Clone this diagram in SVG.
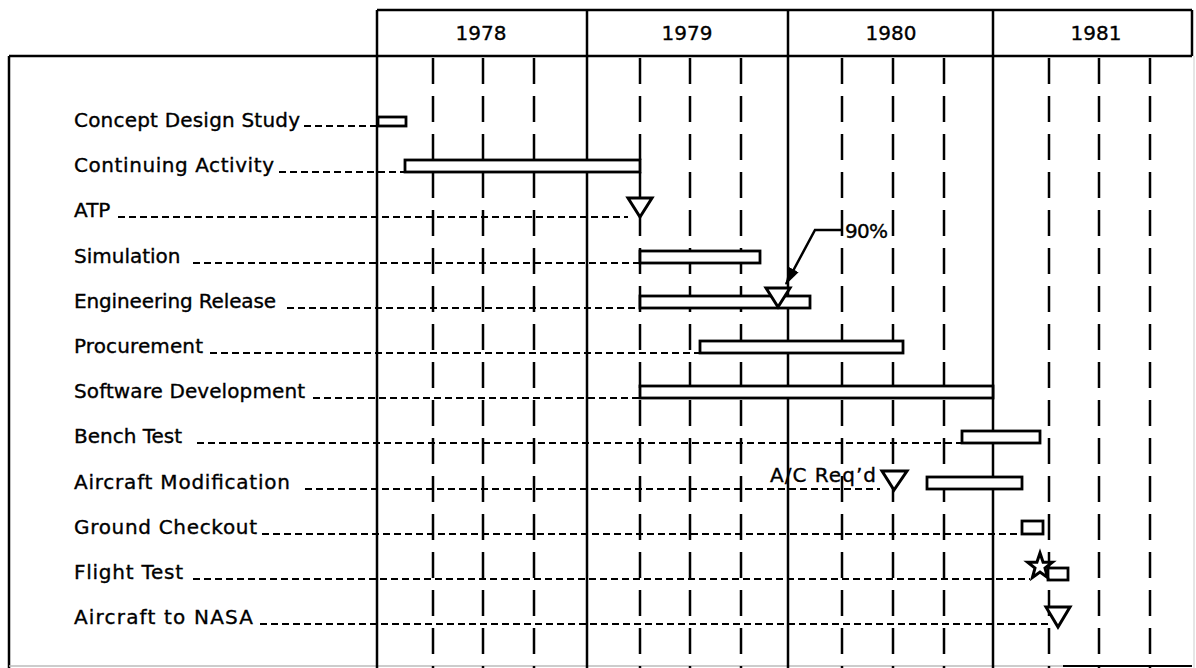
<svg xmlns="http://www.w3.org/2000/svg" width="1196" height="668" viewBox="0 0 1196 668">
<defs>
<style>
.lbl{font-family:"DejaVu Sans","Liberation Sans",sans-serif;font-size:20px;fill:#000;stroke:#000;stroke-width:0.35}
.yr{font-family:"DejaVu Sans","Liberation Sans",sans-serif;font-size:20px;fill:#000;stroke:#000;stroke-width:0.35;text-anchor:middle}
.frame{stroke:#000;stroke-width:2.5;fill:none}
.year{stroke:#000;stroke-width:2.5;fill:none}
.qtr{stroke:#000;stroke-width:2.5;stroke-dasharray:26 12;fill:none}
.lead{stroke:#000;stroke-width:2;stroke-dasharray:7 4;fill:none}
.bar{stroke:#000;stroke-width:2.8;fill:#fff}
.mk{stroke:#000;stroke-width:3;fill:#fff;stroke-linejoin:miter}
</style>
<marker id="ah" viewBox="0 0 16 10" refX="15" refY="5" markerWidth="7" markerHeight="4.5" orient="auto" markerUnits="strokeWidth">
<path d="M0,0 L16,5 L0,10 z" fill="#000"/>
</marker>
</defs>
<rect width="1196" height="668" fill="#fff"/>

<g id="frame">
<line class="frame" x1="377" y1="10" x2="1192" y2="10"/>
<line class="frame" x1="9" y1="56" x2="1192" y2="56"/>
<line class="frame" x1="9" y1="56" x2="9" y2="668"/>
<line class="frame" x1="1192" y1="10" x2="1192" y2="56"/>
<line x1="1194" y1="56" x2="1194" y2="668" stroke="#ccc" stroke-width="1"/>
<line x1="9" y1="666" x2="1063" y2="666" stroke="#bbb" stroke-width="1.5"/>
<line x1="1063" y1="666" x2="1192" y2="666" stroke="#000" stroke-width="2"/>
</g>

<g id="grid">
<line class="year" x1="377" y1="10" x2="377" y2="668"/>
<line class="year" x1="587" y1="10" x2="587" y2="668"/>
<line class="year" x1="788" y1="10" x2="788" y2="668"/>
<line class="year" x1="993" y1="10" x2="993" y2="668"/>
<line class="qtr" x1="433" y1="58" x2="433" y2="668"/>
<line class="qtr" x1="483" y1="58" x2="483" y2="668"/>
<line class="qtr" x1="534" y1="58" x2="534" y2="668"/>
<line class="qtr" x1="640" y1="58" x2="640" y2="668"/>
<line class="qtr" x1="690" y1="58" x2="690" y2="668"/>
<line class="qtr" x1="741" y1="58" x2="741" y2="668"/>
<line class="qtr" x1="842" y1="58" x2="842" y2="668"/>
<line class="qtr" x1="893" y1="58" x2="893" y2="668"/>
<line class="qtr" x1="944" y1="58" x2="944" y2="668"/>
<line class="qtr" x1="1049" y1="58" x2="1049" y2="668"/>
<line class="qtr" x1="1099" y1="58" x2="1099" y2="668"/>
<line class="qtr" x1="1150" y1="58" x2="1150" y2="668"/>
</g>

<g id="years">
<text class="yr" x="481" y="40">1978</text>
<text class="yr" x="687" y="40">1979</text>
<text class="yr" x="891" y="40">1980</text>
<text class="yr" x="1096" y="40">1981</text>
</g>

<g id="connectors">
<line class="lead" x1="304" y1="126" x2="377" y2="126"/>
<line class="lead" x1="279" y1="172" x2="405" y2="172"/>
<line class="lead" x1="118" y1="217" x2="628" y2="217"/>
<line class="lead" x1="193" y1="263" x2="640" y2="263"/>
<line class="lead" x1="287" y1="308" x2="640" y2="308"/>
<line class="lead" x1="210" y1="353" x2="700" y2="353"/>
<line class="lead" x1="313" y1="398" x2="640" y2="398"/>
<line class="lead" x1="197" y1="443" x2="962" y2="443"/>
<line class="lead" x1="305" y1="489" x2="880" y2="489"/>
<line class="lead" x1="262" y1="534" x2="1022" y2="534"/>
<line class="lead" x1="193" y1="579" x2="1030" y2="579"/>
<line class="lead" x1="260" y1="624" x2="1050" y2="624"/>
<polyline points="842,230 815,230 786,284" fill="none" stroke="#000" stroke-width="2.5" marker-end="url(#ah)"/>
</g>

<g id="concept-design-study">
<text class="lbl" x="74" y="127" textLength="226">Concept Design Study</text>
<rect class="bar" x="378" y="117" width="28" height="9"/>
</g>
<g id="continuing-activity">
<text class="lbl" x="74" y="172" textLength="200">Continuing Activity</text>
<rect class="bar" x="405" y="160" width="235" height="12"/>
</g>
<g id="atp">
<text class="lbl" x="74" y="217">ATP</text>
<polygon class="mk" points="628,198 652,198 640,217"/>
</g>
<g id="simulation">
<text class="lbl" x="74" y="263">Simulation</text>
<rect class="bar" x="640" y="251" width="120" height="12"/>
</g>
<g id="engineering-release">
<text class="lbl" x="74" y="308" textLength="202">Engineering Release</text>
<rect class="bar" x="640" y="296" width="170" height="12"/>
<polygon class="mk" points="766,288 790,288 778,307"/>
<text class="lbl" x="845" y="238" textLength="43">90%</text>
</g>
<g id="procurement">
<text class="lbl" x="74" y="353" textLength="129">Procurement</text>
<rect class="bar" x="700" y="341" width="203" height="12"/>
</g>
<g id="software-development">
<text class="lbl" x="74" y="398" textLength="231">Software Development</text>
<rect class="bar" x="640" y="386" width="353" height="12"/>
</g>
<g id="bench-test">
<text class="lbl" x="74" y="443">Bench Test</text>
<rect class="bar" x="962" y="431" width="78" height="12"/>
</g>
<g id="aircraft-modification">
<text class="lbl" x="74" y="489" textLength="216">Aircraft Modification</text>
<text class="lbl" x="770" y="482" textLength="106">A/C Req’d</text>
<polygon class="mk" points="882,471 907,471 894,490"/>
<rect class="bar" x="927" y="477" width="95" height="12"/>
</g>
<g id="ground-checkout">
<text class="lbl" x="74" y="534" textLength="183">Ground Checkout</text>
<rect class="bar" x="1022" y="521" width="21" height="13"/>
</g>
<g id="flight-test">
<text class="lbl" x="74" y="579" textLength="109">Flight Test</text>
<rect class="bar" x="1048" y="568" width="20" height="12"/>
<polygon class="mk" stroke-width="3" points="1040,553 1043.1,562.2 1052.4,562.3 1045,568.1 1047.6,577.5 1040,572 1032.4,577.5 1035,568.1 1027.6,562.3 1036.9,562.2"/>
</g>
<g id="aircraft-to-nasa">
<text class="lbl" x="74" y="624" textLength="179">Aircraft to NASA</text>
<polygon class="mk" points="1046,607 1070,607 1058,627"/>
</g>
</svg>
